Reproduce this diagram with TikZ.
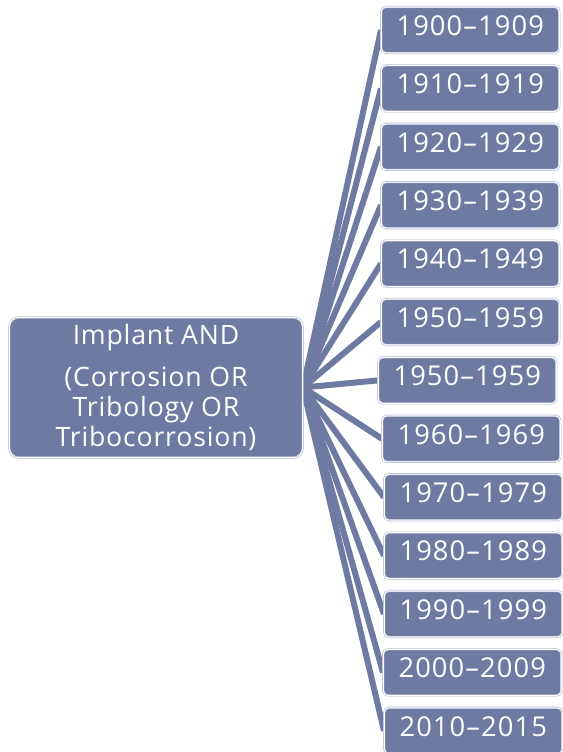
\documentclass[tikz,border=0pt]{standalone}
\usepackage{fontspec}
\setmainfont{Open Sans}
\usetikzlibrary{positioning,backgrounds}
\definecolor{slateblue}{HTML}{6F7AA2}
\definecolor{rimblue}{HTML}{A9AFCB}
\begin{document}
\begin{tikzpicture}[x=0.75pt,y=-0.75pt,
 box/.style={draw=rimblue,double=white,double distance=0.8pt,line width=0.4pt,
 fill=slateblue,text=white,rounded corners=3.5pt,inner sep=0pt},
 root/.style={box,rounded corners=7pt,minimum width=220pt,minimum height=105pt,
 align=center,font=\fontsize{20}{22.5}\selectfont\addfontfeature{LetterSpace=3}},
 period/.style={box,minimum width=133.5pt,minimum height=34.5pt,
 text height=14pt,text depth=6pt,
 font=\fontsize{20.5}{24}\selectfont\addfontfeature{LetterSpace=4}},
 conn/.style={draw=slateblue,line width=4.5pt}]
\useasboundingbox (0,0) rectangle (563,752);
\node[root] (query) at (156,387.5) {Implant AND\\[9pt](Corrosion OR\\Tribology OR\\Tribocorrosion)};
\foreach \yr/\xl [count=\i] in {1900--1909/381,1910--1919/381,1920--1929/381,
 1930--1939/381,1940--1949/381,1950--1959/381,1950--1959/378,1960--1969/382,
 1970--1979/384,1980--1989/384,1990--1999/384,2000--2009/383,2010--2015/384}
 \node[period,anchor=west] (p\i) at (\xl,{30+58.4*(\i-1)}) {\yr};
% connectors fan out behind the boxes
\begin{scope}[on background layer]
\foreach \i in {1,...,13}
 \draw[conn] (query.east) -- (p\i.west);
\end{scope}
\end{tikzpicture}
\end{document}
